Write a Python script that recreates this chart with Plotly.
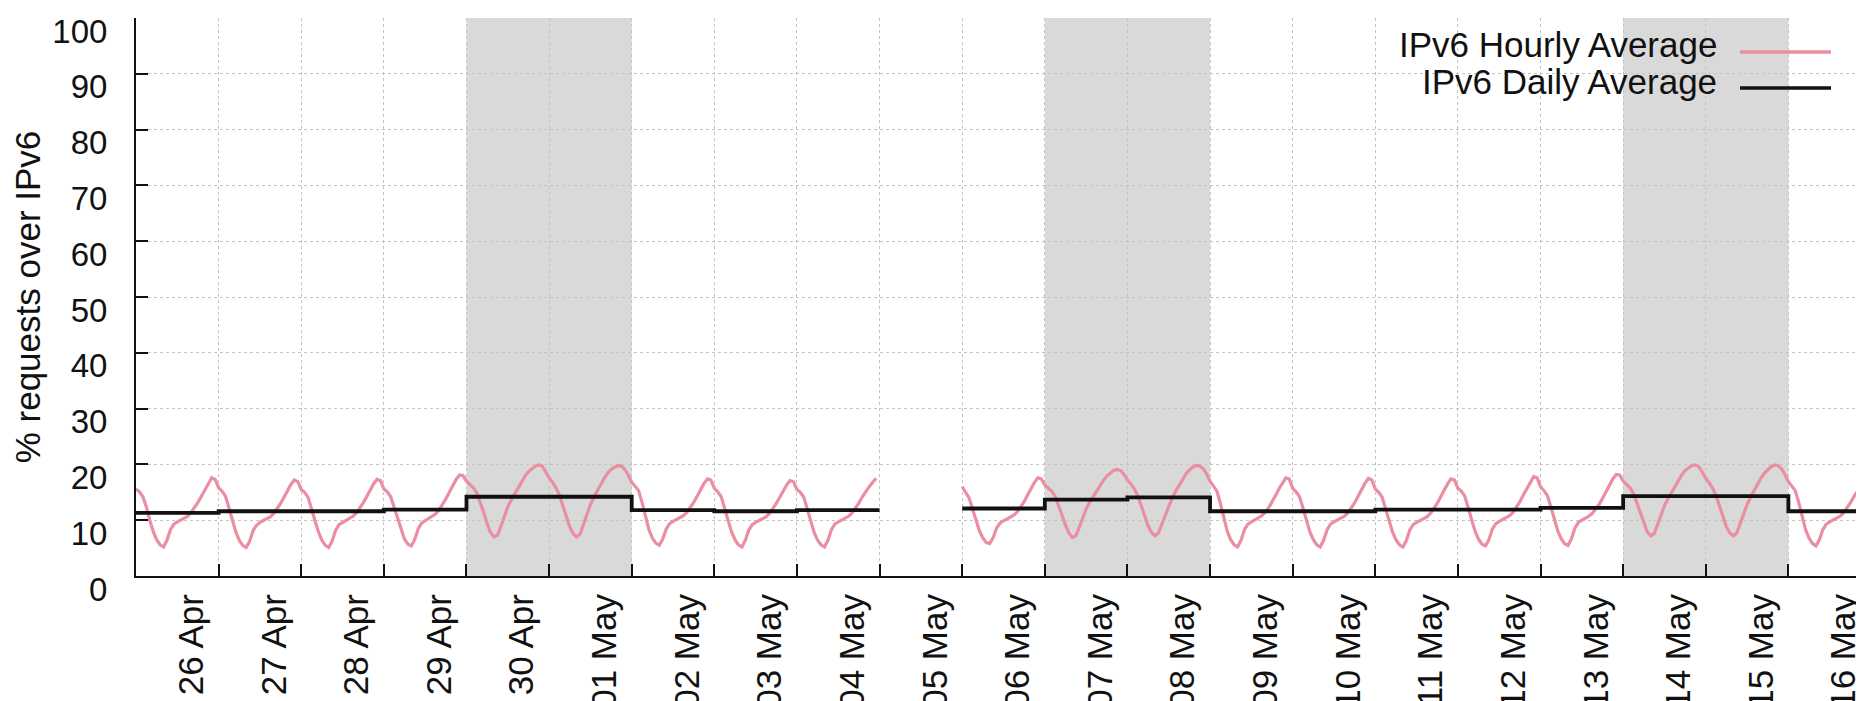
import pandas as pd
import plotly.graph_objects as go

# ---------------- data ----------------
# hourly IPv6 share (%), 24 values per day (hour 0..23)
h_apr25 = [15.6, 15.1, 14.2, 12.4, 10.0, 8.0, 6.5, 5.6, 5.2, 6.4, 8.3, 9.3, 9.7, 10.0, 10.3, 10.7, 11.4, 12.2, 13.2, 14.3, 15.5, 16.6, 17.6, 17.3]
h_apr26 = [15.8, 15.2, 14.3, 12.2, 9.8, 7.9, 6.4, 5.5, 5.1, 6.2, 8.1, 9.1, 9.6, 9.9, 10.2, 10.6, 11.2, 12.0, 13.0, 14.1, 15.3, 16.4, 17.2, 16.9]
h_apr27 = [15.5, 15.0, 14.1, 12.2, 9.9, 7.9, 6.4, 5.5, 5.1, 6.3, 8.2, 9.2, 9.6, 10.0, 10.3, 10.7, 11.3, 12.1, 13.1, 14.2, 15.4, 16.5, 17.3, 17.1]
h_apr28 = [15.6, 15.1, 14.2, 12.3, 10.0, 8.1, 6.6, 5.7, 5.4, 6.6, 8.5, 9.5, 9.9, 10.2, 10.6, 11.1, 11.8, 12.7, 13.8, 15.0, 16.2, 17.3, 18.1, 18.0]
h_apr29 = [17.0, 16.4, 15.8, 14.9, 13.3, 11.4, 9.4, 7.8, 7.0, 7.3, 8.9, 10.8, 12.4, 13.6, 14.7, 15.8, 16.9, 17.9, 18.7, 19.3, 19.7, 19.9, 19.7, 18.7]
h_apr30 = [17.6, 16.8, 15.8, 14.5, 12.6, 10.6, 8.8, 7.6, 7.0, 7.5, 9.3, 11.3, 12.8, 14.1, 15.3, 16.4, 17.5, 18.4, 19.1, 19.5, 19.8, 19.7, 19.1, 18.1]
h_may01 = [16.8, 16.1, 15.3, 13.2, 10.5, 8.3, 6.8, 5.9, 5.5, 6.6, 8.4, 9.4, 9.8, 10.1, 10.4, 10.8, 11.4, 12.2, 13.2, 14.3, 15.5, 16.6, 17.4, 17.2]
h_may02 = [15.7, 15.1, 14.2, 12.2, 9.9, 7.9, 6.5, 5.6, 5.2, 6.4, 8.2, 9.2, 9.6, 9.9, 10.2, 10.6, 11.2, 12.0, 13.0, 14.1, 15.3, 16.3, 17.1, 16.9]
h_may03 = [15.5, 15.0, 14.1, 12.1, 9.8, 7.8, 6.4, 5.6, 5.2, 6.4, 8.3, 9.3, 9.7, 10.0, 10.3, 10.7, 11.3, 12.1, 13.1, 14.2, 15.2, 16.0, 16.8, 17.5]
h_may05 = [16.0, 15.1, 14.0, 12.0, 9.8, 8.1, 6.8, 6.0, 5.8, 6.9, 8.6, 9.5, 9.9, 10.2, 10.5, 10.9, 11.5, 12.3, 13.3, 14.5, 15.7, 16.8, 17.6, 17.4]
h_may06 = [16.3, 15.8, 15.2, 14.3, 12.7, 10.9, 9.1, 7.7, 6.9, 7.2, 8.7, 10.5, 12.0, 13.2, 14.2, 15.2, 16.2, 17.1, 17.9, 18.5, 18.9, 19.1, 18.9, 18.2]
h_may07 = [17.2, 16.5, 15.6, 14.4, 12.6, 10.7, 9.0, 7.8, 7.2, 7.7, 9.3, 11.2, 12.7, 14.0, 15.2, 16.3, 17.4, 18.3, 19.0, 19.5, 19.8, 19.7, 19.2, 18.3]
h_may08 = [17.0, 16.0, 15.2, 13.0, 10.3, 8.0, 6.5, 5.6, 5.2, 6.4, 8.3, 9.3, 9.7, 10.0, 10.4, 10.8, 11.4, 12.2, 13.2, 14.4, 15.6, 16.7, 17.6, 17.4]
h_may09 = [15.7, 15.1, 14.2, 12.2, 9.9, 7.9, 6.5, 5.6, 5.2, 6.4, 8.3, 9.3, 9.7, 10.0, 10.3, 10.7, 11.3, 12.1, 13.1, 14.3, 15.5, 16.6, 17.5, 17.2]
h_may10 = [15.6, 15.0, 14.1, 12.1, 9.8, 7.9, 6.5, 5.6, 5.2, 6.3, 8.2, 9.2, 9.6, 9.9, 10.2, 10.6, 11.2, 12.0, 13.0, 14.2, 15.4, 16.5, 17.4, 17.2]
h_may11 = [15.7, 15.2, 14.3, 12.3, 10.0, 8.0, 6.6, 5.7, 5.4, 6.5, 8.4, 9.4, 9.8, 10.1, 10.4, 10.8, 11.4, 12.3, 13.3, 14.5, 15.7, 16.8, 17.8, 17.6]
h_may12 = [16.0, 15.3, 14.4, 12.4, 10.1, 8.1, 6.7, 5.8, 5.5, 6.7, 8.6, 9.6, 10.0, 10.3, 10.7, 11.2, 11.9, 12.8, 13.9, 15.1, 16.3, 17.4, 18.2, 18.1]
h_may13 = [17.0, 16.4, 15.8, 14.8, 13.1, 11.2, 9.3, 7.9, 7.2, 7.6, 9.2, 11.0, 12.6, 13.8, 14.9, 16.0, 17.1, 18.1, 18.9, 19.4, 19.8, 19.9, 19.6, 18.6]
h_may14 = [17.5, 16.7, 15.7, 14.4, 12.5, 10.5, 8.8, 7.7, 7.2, 7.7, 9.4, 11.3, 12.8, 14.1, 15.3, 16.4, 17.5, 18.4, 19.1, 19.6, 19.9, 19.8, 19.2, 18.2]
h_may15 = [16.9, 16.1, 15.3, 13.2, 10.5, 8.3, 6.8, 5.8, 5.4, 6.5, 8.3, 9.3, 9.7, 10.0, 10.3, 10.7, 11.3, 12.1, 13.1, 14.2, 15.2, 16.0, 16.8, 17.5]

hourly_days = ['2017-04-25', '2017-04-26', '2017-04-27', '2017-04-28', '2017-04-29', '2017-04-30',
               '2017-05-01', '2017-05-02', '2017-05-03', '2017-05-05', '2017-05-06', '2017-05-07',
               '2017-05-08', '2017-05-09', '2017-05-10', '2017-05-11', '2017-05-12', '2017-05-13',
               '2017-05-14', '2017-05-15']
hourly_values = [h_apr25, h_apr26, h_apr27, h_apr28, h_apr29, h_apr30, h_may01, h_may02, h_may03,
                 h_may05, h_may06, h_may07, h_may08, h_may09, h_may10, h_may11, h_may12, h_may13,
                 h_may14, h_may15]

# daily average (%), None = no data
daily_days = ['2017-04-25', '2017-04-26', '2017-04-27', '2017-04-28', '2017-04-29', '2017-04-30',
              '2017-05-01', '2017-05-02', '2017-05-03', '2017-05-04', '2017-05-05', '2017-05-06',
              '2017-05-07', '2017-05-08', '2017-05-09', '2017-05-10', '2017-05-11', '2017-05-12',
              '2017-05-13', '2017-05-14', '2017-05-15']
daily_avg = [11.3, 11.6, 11.6, 11.9, 14.2, 14.2, 11.8, 11.6, 11.8, None, 12.1, 13.7,
             14.1, 11.6, 11.6, 11.9, 11.9, 12.2, 14.3, 14.3, 11.6]

# weekends (shaded)
weekend_start = ['2017-04-29', '2017-05-06', '2017-05-13']
weekend_end = ['2017-05-01', '2017-05-08', '2017-05-15']

# x ticks
tick_dates = ['2017-04-26', '2017-04-27', '2017-04-28', '2017-04-29', '2017-04-30', '2017-05-01',
              '2017-05-02', '2017-05-03', '2017-05-04', '2017-05-05', '2017-05-06', '2017-05-07',
              '2017-05-08', '2017-05-09', '2017-05-10', '2017-05-11', '2017-05-12', '2017-05-13',
              '2017-05-14', '2017-05-15', '2017-05-16']
tick_labels = ['26 Apr', '27 Apr', '28 Apr', '29 Apr', '30 Apr', '01 May', '02 May', '03 May',
               '04 May', '05 May', '06 May', '07 May', '08 May', '09 May', '10 May', '11 May',
               '12 May', '13 May', '14 May', '15 May', '16 May']
y_ticks = [0, 10, 20, 30, 40, 50, 60, 70, 80, 90, 100]

x_start, x_end = '2017-04-25', '2017-05-16'

# ---------------- build series ----------------
hx, hy = [], []
prev = None
for d, vals in zip(hourly_days, hourly_values):
    day = pd.Timestamp(d)
    if prev is not None and (day - prev) > pd.Timedelta(days=1):
        hx.append(None)
        hy.append(None)
    for h, v in enumerate(vals):
        hx.append(day + pd.Timedelta(hours=h))
        hy.append(v)
    prev = day

dx, dy = [], []
for d, v in zip(daily_days, daily_avg):
    day = pd.Timestamp(d)
    if v is None:
        dx.append(None)
        dy.append(None)
        continue
    dx += [day, day + pd.Timedelta(days=1)]
    dy += [v, v]

PINK = '#ea8ea1'
BLACK = '#111111'
FONT = 'Liberation Sans, Arial, Helvetica, sans-serif'

fig = go.Figure()
fig.add_trace(go.Scatter(x=hx, y=hy, mode='lines', name='IPv6 Hourly Average',
                         line=dict(color=PINK, width=3.2), connectgaps=False))
fig.add_trace(go.Scatter(x=dx, y=dy, mode='lines', name='IPv6 Daily Average',
                         line=dict(color=BLACK, width=3.8), connectgaps=False))

for s, e in zip(weekend_start, weekend_end):
    fig.add_shape(type='rect', xref='x', yref='y', x0=s, x1=e, y0=0, y1=100,
                  fillcolor='#d9d9d9', line=dict(width=0), layer='below')

# manual legend (text left, line sample right)
L, W, T, H = 128, 1735, 10, 558
def px(x):
    return (x - L) / W
def py(y):
    return 1 - (y - T) / H

legend_rows = [('IPv6 Hourly Average', PINK, 44, 37), ('IPv6 Daily Average', BLACK, 80, 73)]
for text, col, yline, ytext in legend_rows:
    fig.add_annotation(x=px(1711), y=py(ytext), xref='paper', yref='paper', text=text,
                       showarrow=False, xanchor='right', yanchor='middle',
                       font=dict(family=FONT, size=35, color=BLACK))
    fig.add_shape(type='line', xref='paper', yref='paper', x0=px(1732), x1=px(1823),
                  y0=py(yline), y1=py(yline), line=dict(color=col, width=3.6), layer='above')

axis_common = dict(showline=True, linecolor=BLACK, linewidth=2, ticks='inside',
                   ticklen=12, tickwidth=1.5, tickcolor=BLACK, showgrid=True,
                   gridcolor='#c4c4c4', griddash='dot', gridwidth=1, zeroline=False,
                   automargin=False)

fig.update_layout(
    width=1864, height=701,
    margin=dict(l=128, r=1, t=10, b=133),
    paper_bgcolor='white', plot_bgcolor='white',
    showlegend=False,
    font=dict(family=FONT, color=BLACK),
    xaxis=dict(type='date', range=[x_start, x_end], tickmode='array',
               tickvals=tick_dates, ticktext=tick_labels, tickangle=-90,
               tickfont=dict(size=35, family=FONT, color=BLACK),
               ticklabelshift=-27, ticklabelstandoff=2, **axis_common),
    yaxis=dict(range=[0, 100], tickmode='array', tickvals=y_ticks,
               ticktext=[str(v) for v in y_ticks],
               tickfont=dict(size=33, family=FONT, color=BLACK),
               ticklabelshift=13, ticklabelstandoff=20,
               title=dict(text='% requests over IPv6', font=dict(size=35, family=FONT, color=BLACK),
                          standoff=4),
               **axis_common),
)

fig.write_html('out.html')
